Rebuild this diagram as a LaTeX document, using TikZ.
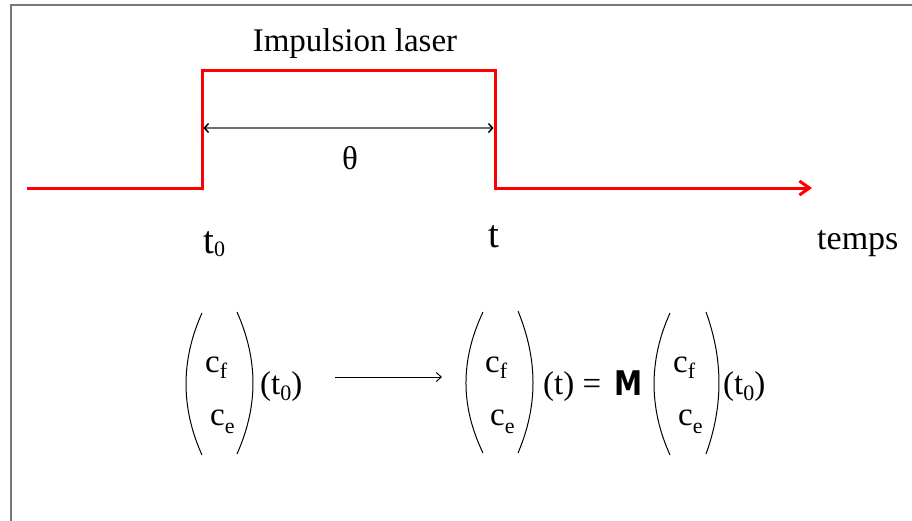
\documentclass[tikz,border=0pt]{standalone}
\usepackage{fontspec}
\setmainfont{Liberation Serif}
\newfontfamily\serifx{Liberation Serif}
\newfontfamily\mfont{DejaVu Sans}
\usetikzlibrary{arrows.meta}
\definecolor{framegray}{RGB}{120,120,120}
\definecolor{dimgray}{RGB}{110,110,110}
\newcommand\dnf[1]{\raisebox{-6pt}{\fontsize{22}{22}\selectfont #1}}
\newcommand\dne[1]{\raisebox{-8pt}{\fontsize{22}{22}\selectfont #1}}
\newcommand\dnz[1]{\raisebox{-6pt}{\fontsize{22}{22}\selectfont #1}}
\newcommand\dnt[1]{\raisebox{-3pt}{\fontsize{22}{22}\selectfont #1}}
\begin{document}
\begin{tikzpicture}[x=1pt,y=-1pt,
  big/.style={inner sep=0pt, anchor=base west, font=\serifx\fontsize{34}{40}\selectfont},
  tl/.style={inner sep=0pt, anchor=base west, font=\serifx\fontsize{39}{44}\selectfont},
  bigc/.style={inner sep=0pt, anchor=base, font=\serifx\fontsize{33}{40}\selectfont},
  mtx/.style={inner sep=0pt, anchor=base west, font=\serifx\fontsize{33}{38}\selectfont},
  paren/.style={line width=1pt, black},
  pulse/.style={red, line width=3pt},
  thin arrow/.style={line width=1pt, black, -{Straight Barb[length=5pt,width=9pt]}},
  dim/.style={dimgray, line width=1.5pt, {Straight Barb[length=4pt,width=9pt,black]}-{Straight Barb[length=4pt,width=9pt,black]}}
]
\useasboundingbox (0,0) rectangle (912,520);
% frame
\draw[framegray, line width=2pt] (11,530) -- (11,5) -- (920,5);
% pulse
\coordinate (s) at (27,188);
\coordinate (a) at (202,188);
\coordinate (b) at (202,70);
\coordinate (c) at (495,70);
\coordinate (d) at (495,188);
\coordinate (e) at (812,188);
\draw[pulse, -{Straight Barb[length=10pt,width=14pt]}] (s) -- (a) -- (b) -- (c) -- (d) -- (e);
% duration arrow
\coordinate (ml) at (203.5,128);
\coordinate (mr) at (493.5,128);
\draw[dim] (ml) -- (mr);
% labels
\node[bigc] (title) at (355,51) {Impulsion laser};
\node[bigc] (theta) at (350,169) {θ};
\node[tl] (t0) at (203,253) {t\dnt{0}};
\node[tl] (t) at (488,247) {t};
\node[big] (temps) at (817,249) {temps};
% first vector
\draw[paren] (202,313) .. controls (180.7,360) and (180.7,408) .. (202,455);
\draw[paren] (237,312) .. controls (258.3,360) and (258.3,406) .. (237,454);
\node[mtx] (cf1) at (205,372) {c\dnf{f}};
\node[mtx] (ce1) at (210,425) {c\dne{e}};
\node[mtx] (tz1) at (260,394) {(t\dnz{0})};
% arrow
\coordinate (al) at (335,377);
\coordinate (ar) at (442,377);
\draw[thin arrow] (al) -- (ar);
% second vector
\draw[paren] (483,312) .. controls (460.3,360) and (460.3,406) .. (483,453);
\draw[paren] (518,311) .. controls (538,360) and (538,406) .. (518,453);
\node[mtx] (cf2) at (485,372) {c\dnf{f}};
\node[mtx] (ce2) at (490,425) {c\dne{e}};
\node[mtx] (teq) at (543,394) {(t) =};
\node[inner sep=0pt, anchor=base west, font=\mfont\bfseries\fontsize{34}{40}\selectfont] (M) at (614,395) {\scalebox{0.83}[1]{M}};
% third vector
\draw[paren] (670,313) .. controls (648.7,360) and (648.7,408) .. (670,455);
\draw[paren] (706,312) .. controls (723.3,360) and (723.3,406) .. (706,454);
\node[mtx] (cf3) at (673,372) {c\dnf{f}};
\node[mtx] (ce3) at (678,425) {c\dne{e}};
\node[mtx] (tz3) at (723,394) {(t\dnz{0})};
\end{tikzpicture}
\end{document}
